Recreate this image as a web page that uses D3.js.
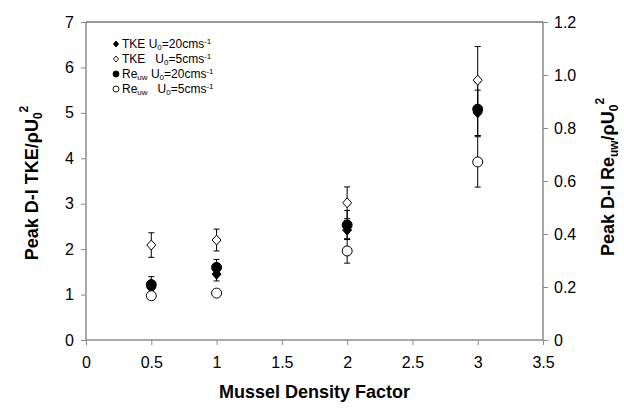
<!DOCTYPE html>
<html>
<head>
<meta charset="utf-8">
<script src="https://cdn.jsdelivr.net/npm/d3@7"></script>
<style>
  body { margin: 0; background: #fff; }
  text { font-family: "Liberation Sans", Arial, sans-serif; }
</style>
</head>
<body>
<svg id="chart" width="624" height="409"></svg>
<script>
var density = [0.5, 1, 2, 3]

// TKE on left axis
var tke20 = [1.15, 1.45, 2.42, 5.0]
var tke20Err = [0.15, 0.15, 0.2, 0.5]
var tke5 = [2.09, 2.2, 3.02, 5.72]
var tke5Err = [0.27, 0.24, 0.35, 0.74]

// Re_uw on right axis
var re20 = [0.209, 0.274, 0.434, 0.871]
var re20Err = [0.03, 0.03, 0.055, 0.1]
var re5 = [0.167, 0.177, 0.336, 0.672]
var re5Err = [0.008, 0.01, 0.046, 0.095]

var xTicks = [0, 0.5, 1, 1.5, 2, 2.5, 3, 3.5]
var yLeftTicks = [0, 1, 2, 3, 4, 5, 6, 7]
var yRightTicks = [0, 0.2, 0.4, 0.6, 0.8, 1.0, 1.2]

var margin = {left: 86, right: 81, top: 22, bottom: 69}
var width = 624, height = 409

var svg = d3.select('#chart')

var x = d3.scaleLinear().domain([0, 3.5]).range([margin.left, width - margin.right])
var yL = d3.scaleLinear().domain([0, 7]).range([height - margin.bottom, margin.top])
var yR = d3.scaleLinear().domain([0, 1.2]).range([height - margin.bottom, margin.top])

// axes
var xAxis = svg.append('g')
    .attr('transform', 'translate(0,' + (height - margin.bottom) + ')')
    .call(d3.axisBottom(x).tickValues(xTicks).tickSize(5).tickPadding(12)
        .tickFormat(function(d) { return d })
    )
var leftAxis = svg.append('g')
    .attr('transform', 'translate(' + margin.left + ',0)')
    .call(d3.axisLeft(yL).tickValues(yLeftTicks).tickSize(5).tickPadding(7)
        .tickFormat(function(d) { return d })
    )
var rightAxis = svg.append('g')
    .attr('transform', 'translate(' + (width - margin.right) + ',0)')
    .call(d3.axisRight(yR).tickValues(yRightTicks).tickSize(5).tickPadding(6)
        .tickFormat(function(d) { return d == 0 ? '0' : d3.format('.1f')(d) })
    )

svg.selectAll('.domain').attr('stroke', '#8c8c8c').attr('stroke-width', 1.5)
svg.selectAll('.tick line').attr('stroke', '#8c8c8c')
svg.selectAll('.tick text').attr('fill', '#000').style('font-size', '16px')
    .style('font-family', '"Liberation Sans", Arial, sans-serif')
xAxis.selectAll('.domain').attr('d', 'M' + margin.left + ',0H' + (width - margin.right))
leftAxis.selectAll('.domain').attr('d', 'M0,' + yL(0) + 'V' + yL(7))
rightAxis.selectAll('.domain').attr('d', 'M0,' + yR(0) + 'V' + yR(1.2))

// top border
svg.append('line')
    .attr('x1', margin.left).attr('x2', width - margin.right)
    .attr('y1', margin.top).attr('y2', margin.top)
    .attr('stroke', '#333').attr('stroke-width', 1.2)

// error bars
function errorBars(vals, errs, y) {
    var g = svg.append('g').attr('stroke', '#000').attr('stroke-width', 1)
    density.forEach(function(d, i) {
        var cx = x(d)
        var y1 = y(vals[i] + errs[i]), y2 = y(vals[i] - errs[i])
        g.append('line').attr('x1', cx).attr('x2', cx).attr('y1', y1).attr('y2', y2)
        g.append('line').attr('x1', cx - 3).attr('x2', cx + 3).attr('y1', y1).attr('y2', y1)
        g.append('line').attr('x1', cx - 3).attr('x2', cx + 3).attr('y1', y2).attr('y2', y2)
    })
}
errorBars(tke20, tke20Err, yL)
errorBars(tke5, tke5Err, yL)
errorBars(re20, re20Err, yR)
errorBars(re5, re5Err, yR)

var diamond = 'M0,-5L4.5,0L0,5L-4.5,0Z'

function markers(vals, y, shape, fill) {
    var sel = svg.append('g').selectAll('path')
        .data(vals)
        .join(shape == 'diamond' ? 'path' : 'circle')
    if (shape == 'diamond') {
        sel.attr('d', diamond)
            .attr('transform', function(d, i) { return 'translate(' + x(density[i]) + ',' + y(d) + ')' })
    } else {
        sel.attr('cx', function(d, i) { return x(density[i]) })
            .attr('cy', function(d) { return y(d) })
            .attr('r', 5)
    }
    sel.attr('fill', fill).attr('stroke', '#000').attr('stroke-width', 1)
}
markers(tke20, yL, 'diamond', '#000')
markers(tke5, yL, 'diamond', '#fff')
markers(re20, yR, 'circle', '#000')
markers(re5, yR, 'circle', '#fff')

// axis titles
svg.append('text')
    .attr('x', (margin.left + width - margin.right) / 2).attr('y', 398)
    .attr('text-anchor', 'middle')
    .style('font-size', '18px').style('font-weight', 'bold')
    .text('Mussel Density Factor')

var lt = svg.append('text')
    .attr('transform', 'translate(38,' + (yL(3.5) + 2) + ') rotate(-90)')
    .attr('text-anchor', 'middle')
    .style('font-size', '18px').style('font-weight', 'bold')
lt.append('tspan').text('Peak D-I TKE/\u03c1U')
lt.append('tspan').attr('dy', 4).style('font-size', '12px').text('0')
lt.append('tspan').attr('dy', -14).style('font-size', '12px').text('2')

var rt = svg.append('text')
    .attr('transform', 'translate(614,' + (yR(0.6) - 4) + ') rotate(-90)')
    .attr('text-anchor', 'middle')
    .style('font-size', '18px').style('font-weight', 'bold')
rt.append('tspan').text('Peak D-I Re')
rt.append('tspan').attr('dy', 4).style('font-size', '12px').text('uw')
rt.append('tspan').attr('dy', -4).text('/\u03c1U')
rt.append('tspan').attr('dy', 4).style('font-size', '12px').text('0')
rt.append('tspan').attr('dy', -14).style('font-size', '12px').text('2')

// legend
var legendItems = [
    {shape: 'diamond', fill: '#000', main: 'TKE U', sub: null},
    {shape: 'diamond', fill: '#fff', main: 'TKE\u00a0\u00a0\u00a0U', sub: null},
    {shape: 'circle', fill: '#000', main: 'Re', sub: 'uw'},
    {shape: 'circle', fill: '#fff', main: 'Re', sub: 'uw'}
]
var legendSpeed = ['20', '5', '20', '5']

var legend = svg.append('g').attr('transform', 'translate(116,44)')
legendItems.forEach(function(item, i) {
    var g = legend.append('g').attr('transform', 'translate(0,' + (i * 15) + ')')
    if (item.shape == 'diamond') {
        g.append('path').attr('d', 'M0,-3L2.6,0L0,3L-2.6,0Z')
            .attr('fill', item.fill).attr('stroke', '#000').attr('stroke-width', 0.9)
    } else {
        g.append('circle').attr('r', 3)
            .attr('fill', item.fill).attr('stroke', '#000').attr('stroke-width', 0.9)
    }
    var t = g.append('text').attr('x', 6).attr('y', 4).style('font-size', '12px')
    t.append('tspan').text(item.main)
    if (item.sub) {
        t.append('tspan').attr('dy', 2).style('font-size', '8px').text(item.sub)
        t.append('tspan').attr('dy', -2).text(i == 2 ? ' U' : '\u00a0\u00a0\u00a0U')
    }
    t.append('tspan').attr('dy', 2).style('font-size', '8px').text('0')
    t.append('tspan').attr('dy', -2).text('=' + legendSpeed[i] + 'cms')
    t.append('tspan').attr('dy', -4).style('font-size', '8px').text('-1')
})
</script>
</body>
</html>
